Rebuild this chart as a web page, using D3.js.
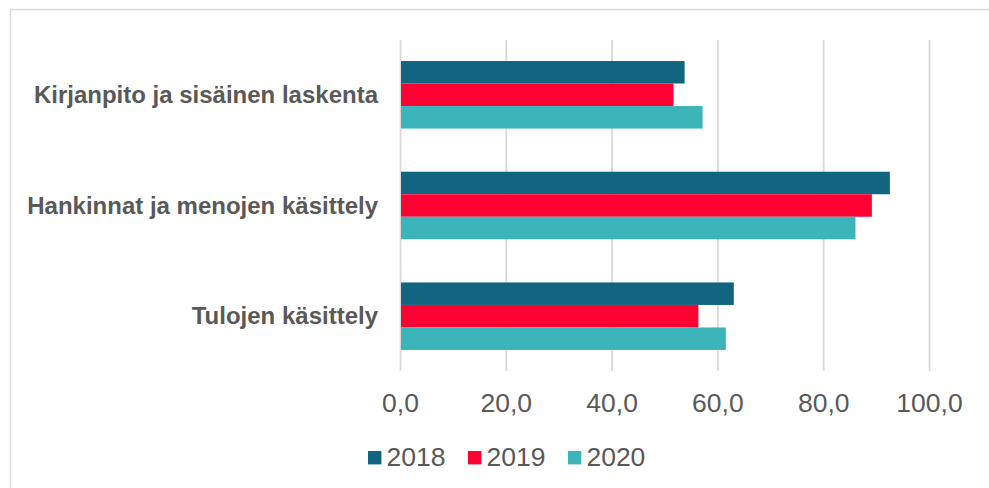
<!DOCTYPE html>
<html>
<head>
<meta charset="utf-8">
<script src="https://cdn.jsdelivr.net/npm/d3@7"></script>
<style>
  body { margin: 0; background: #fff; }
  text { font-family: "Liberation Sans", Arial, sans-serif; fill: #595959; }
</style>
</head>
<body>
<svg id="chart" width="989" height="488"></svg>
<script>
// data
let categories = ["Kirjanpito ja sisäinen laskenta", "Hankinnat ja menojen käsittely", "Tulojen käsittely"];
let years = ["2018", "2019", "2020"];
let values2018 = [53.8, 92.6, 63.1];
let values2019 = [51.7, 89.2, 56.4];
let values2020 = [57.2, 86.1, 61.6];
let xTicks = [0, 20, 40, 60, 80, 100];
let colors = ["#12657f", "#ff0033", "#3cb5ba"];

function makeChart(id) {
    let margins = {top: 40, left: 400, right: 60, bottom: 117};
    let width = 989, height = 488;
    let innerWidth = 929 - margins.left;
    let innerHeight = 371 - margins.top;

    let chart = d3.select("#" + id);

    // outer frame, cut by the window on the right and bottom
    chart.append("rect")
        .attr("x", 10.5).attr("y", 9.5)
        .attr("width", 1000).attr("height", 500)
        .style("fill", "none")
        .style("stroke", "#d9d9d9")
        .style("stroke-width", 1.5);

    let g = chart.append("g").attr("transform", `translate(${margins.left},${margins.top})`);

    let xScale = d3.scaleLinear().domain([0, 100]).range([0, innerWidth]);
    let yScale = d3.scaleBand().domain(categories).range([0, innerHeight])
        .paddingInner(0.39).paddingOuter(0.19);
    let inner = d3.scaleBand().domain(years).range([0, yScale.bandwidth()]);

    let fmt = d3.formatLocale({decimal: ",", thousands: " ", grouping: [3], currency: ["", "€"]}).format(".1f");

    // gridlines
    let grid = g.append("g")
        .call(d3.axisBottom(xScale).tickValues(xTicks).tickSize(innerHeight).tickFormat(""));
    grid.select(".domain").remove();
    grid.selectAll("line").style("stroke", "#d9d9d9").style("stroke-width", 1.8);

    // x tick labels
    let xAxis = g.append("g")
        .attr("transform", `translate(0,${innerHeight})`)
        .call(d3.axisBottom(xScale).tickValues(xTicks).tickSize(0).tickFormat(fmt));
    xAxis.select(".domain").remove();
    xAxis.selectAll("text")
        .attr("y", 41).attr("dy", 0)
        .style("font-size", "26.5px")
        .style("fill", "#595959");

    // category labels
    let yAxis = g.append("g")
        .call(d3.axisLeft(yScale).tickSize(0).tickPadding(22));
    yAxis.select(".domain").remove();
    yAxis.selectAll("text")
        .attr("dy", 0).attr("y", 8)
        .style("font-size", "24px")
        .style("font-weight", "bold")
        .style("fill", "#595959");

    let series = [values2018, values2019, values2020];
    let rows = categories.map((c, i) => ({category: c, vals: years.map((y, j) => ({year: y, value: series[j][i]}))}));

    let groups = g.selectAll(".cat").data(rows).enter().append("g")
        .attr("class", "cat")
        .attr("transform", d => `translate(0,${yScale(d.category)})`);

    groups.selectAll("rect").data(d => d.vals).enter().append("rect")
        .attr("x", xScale(0) + 1)
        .attr("y", d => inner(d.year))
        .attr("width", d => xScale(d.value) - xScale(0) - 1)
        .attr("height", inner.bandwidth())
        .style("fill", (d, i) => colors[i]);

    // legend
    let legend = chart.append("g").attr("transform", "translate(368,0)");
    let lx = 0;
    years.forEach((y, i) => {
        let item = legend.append("g").attr("transform", `translate(${lx},0)`);
        item.append("rect")
            .attr("x", 0).attr("y", 451)
            .attr("width", 13.4).attr("height", 13.4)
            .style("fill", colors[i]);
        let t = item.append("text")
            .attr("x", 18.5).attr("y", 465.5)
            .style("font-size", "26.5px")
            .text(y);
        lx += 18.5 + t.node().getComputedTextLength() + 22.5;
    });
}

makeChart("chart");
</script>
</body>
</html>
